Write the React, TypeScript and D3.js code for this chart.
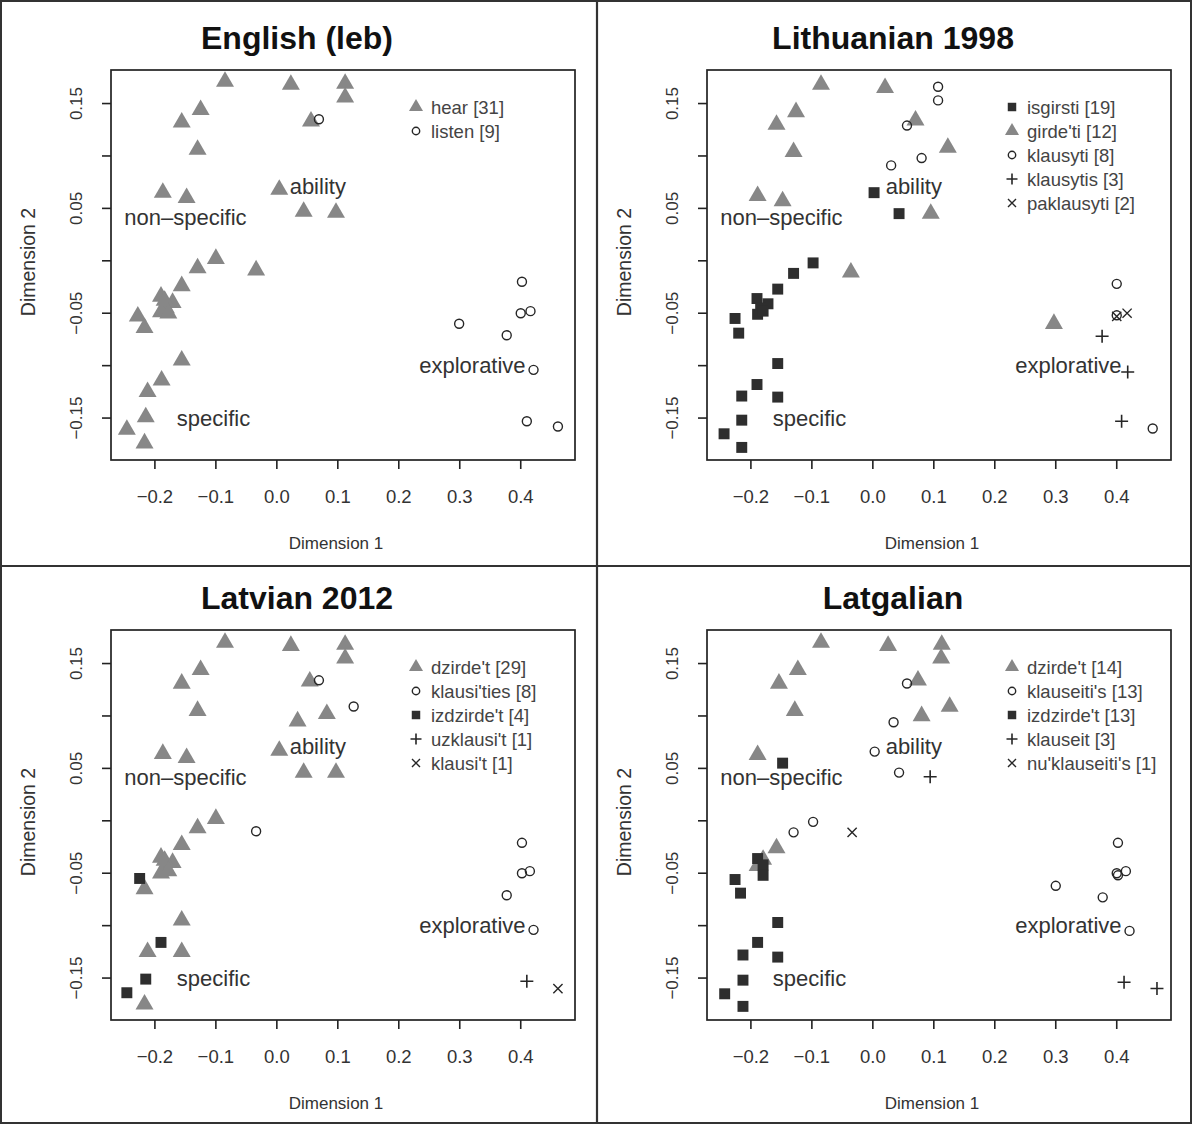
import React from 'react';
import * as d3 from 'd3';

type Pt = [number, number];

// axis ticks shared by all four panels
const xTicks = [-0.2, -0.1, 0, 0.1, 0.2, 0.3, 0.4];
const yTicks = [-0.15, -0.1, -0.05, 0, 0.05, 0.1, 0.15];
const yLabelled = [-0.15, -0.05, 0.05, 0.15];

// English (leb)
const engHear: Pt[] = [
  [-0.085, 0.171], [0.023, 0.168], [0.112, 0.169], [0.112, 0.156], [-0.125, 0.144], [-0.156, 0.132],
  [0.056, 0.133], [-0.13, 0.106], [-0.187, 0.065], [-0.148, 0.06], [0.004, 0.068], [0.044, 0.047],
  [0.097, 0.046], [-0.1, 0.002], [-0.13, -0.007], [-0.034, -0.009], [-0.156, -0.024], [-0.19, -0.034],
  [-0.171, -0.04], [-0.182, -0.045], [-0.19, -0.049], [-0.184, -0.038], [-0.178, -0.05], [-0.228, -0.053],
  [-0.217, -0.064], [-0.156, -0.095], [-0.189, -0.114], [-0.212, -0.125], [-0.215, -0.149], [-0.246, -0.161],
  [-0.217, -0.174],
];
const engListen: Pt[] = [
  [0.069, 0.135], [0.402, -0.02], [0.4, -0.05], [0.416, -0.048], [0.299, -0.06], [0.377, -0.071],
  [0.421, -0.104], [0.41, -0.153], [0.461, -0.158],
];

// Lithuanian 1998
const litIsgirsti: Pt[] = [
  [0.002, 0.065], [0.043, 0.045], [-0.098, -0.002], [-0.13, -0.012], [-0.156, -0.027], [-0.19, -0.036],
  [-0.172, -0.041], [-0.184, -0.045], [-0.189, -0.051], [-0.18, -0.048], [-0.226, -0.055], [-0.22, -0.069],
  [-0.156, -0.098], [-0.19, -0.118], [-0.215, -0.129], [-0.156, -0.13], [-0.215, -0.152], [-0.244, -0.165],
  [-0.215, -0.178],
];
const litGirdeti: Pt[] = [
  [-0.085, 0.168], [0.02, 0.165], [-0.126, 0.142], [-0.158, 0.13], [0.07, 0.134], [-0.13, 0.104],
  [0.123, 0.108], [-0.189, 0.062], [-0.148, 0.057], [0.095, 0.045], [-0.036, -0.011], [0.297, -0.06],
];
const litKlausyti: Pt[] = [
  [0.107, 0.166], [0.107, 0.153], [0.056, 0.129], [0.08, 0.098], [0.03, 0.091], [0.4, -0.022],
  [0.459, -0.16], [0.4, -0.052],
];
const litKlausytis: Pt[] = [[0.376, -0.072], [0.418, -0.106], [0.408, -0.153]];
const litPaklausyti: Pt[] = [[0.4, -0.053], [0.417, -0.05]];

// Latvian 2012
const lavDzirdet: Pt[] = [
  [-0.085, 0.17], [0.023, 0.167], [0.112, 0.168], [0.112, 0.155], [-0.125, 0.144], [-0.156, 0.131],
  [0.054, 0.133], [-0.13, 0.105], [0.034, 0.095], [0.082, 0.102], [-0.187, 0.064], [-0.148, 0.06],
  [0.004, 0.067], [0.044, 0.046], [0.097, 0.046], [-0.1, 0.002], [-0.13, -0.007], [-0.156, -0.023],
  [-0.19, -0.035], [-0.171, -0.04], [-0.182, -0.045], [-0.19, -0.05], [-0.184, -0.038], [-0.178, -0.048],
  [-0.217, -0.065], [-0.156, -0.095], [-0.212, -0.125], [-0.156, -0.125], [-0.217, -0.175],
];
const lavKlausities: Pt[] = [
  [0.069, 0.134], [0.126, 0.109], [-0.034, -0.01], [0.402, -0.021], [0.402, -0.05], [0.415, -0.048],
  [0.377, -0.071], [0.421, -0.104],
];
const lavIzdzirdet: Pt[] = [[-0.225, -0.055], [-0.19, -0.116], [-0.215, -0.151], [-0.246, -0.164]];
const lavUzklausit: Pt[] = [[0.41, -0.153]];
const lavKlausit: Pt[] = [[0.461, -0.16]];

// Latgalian
const ltgDzirdet: Pt[] = [
  [-0.085, 0.17], [0.025, 0.167], [0.113, 0.168], [0.112, 0.155], [-0.123, 0.144], [-0.154, 0.131],
  [0.074, 0.134], [-0.128, 0.105], [0.08, 0.1], [0.126, 0.109], [-0.189, 0.063], [-0.158, -0.026],
  [-0.18, -0.037], [-0.189, -0.043],
];
const ltgKlauseitis: Pt[] = [
  [0.056, 0.131], [0.034, 0.094], [0.003, 0.066], [0.043, 0.046], [-0.098, -0.001], [-0.13, -0.011],
  [0.402, -0.021], [0.4, -0.05], [0.415, -0.048], [0.3, -0.062], [0.377, -0.073], [0.421, -0.105],
  [0.402, -0.052],
];
const ltgIzdzirdet: Pt[] = [
  [-0.148, 0.055], [-0.189, -0.036], [-0.18, -0.042], [-0.18, -0.052], [-0.226, -0.056], [-0.217, -0.069],
  [-0.156, -0.097], [-0.189, -0.116], [-0.213, -0.128], [-0.156, -0.13], [-0.213, -0.152], [-0.243, -0.165],
  [-0.213, -0.177],
];
const ltgKlauseit: Pt[] = [[0.094, 0.042], [0.412, -0.154], [0.466, -0.16]];
const ltgNuklauseitis: Pt[] = [[-0.034, -0.011]];

// cluster names written into every panel
const regionNames = ['ability', 'non\u2013specific', 'specific', 'explorative'];
const regionX = [0.021, -0.15, -0.164, 0.408];
const regionY = [0.071, 0.041, -0.15, -0.1];
const regionAnchor = ['start', 'middle', 'start', 'end'];

type Shape = 'triangle' | 'circle' | 'square' | 'plus' | 'cross';
type Series = { label: string; shape: Shape; pts: Pt[] };

const panels: { title: string; dx: number; dy: number; series: Series[] }[] = [
  {
    title: 'English (leb)', dx: 0, dy: 0,
    series: [
      { label: 'hear [31]', shape: 'triangle', pts: engHear },
      { label: 'listen [9]', shape: 'circle', pts: engListen },
    ],
  },
  {
    title: 'Lithuanian 1998', dx: 596, dy: 0,
    series: [
      { label: 'isgirsti [19]', shape: 'square', pts: litIsgirsti },
      { label: "girde'ti [12]", shape: 'triangle', pts: litGirdeti },
      { label: 'klausyti [8]', shape: 'circle', pts: litKlausyti },
      { label: 'klausytis [3]', shape: 'plus', pts: litKlausytis },
      { label: 'paklausyti [2]', shape: 'cross', pts: litPaklausyti },
    ],
  },
  {
    title: 'Latvian 2012', dx: 0, dy: 560,
    series: [
      { label: "dzirde't [29]", shape: 'triangle', pts: lavDzirdet },
      { label: "klausi'ties [8]", shape: 'circle', pts: lavKlausities },
      { label: "izdzirde't [4]", shape: 'square', pts: lavIzdzirdet },
      { label: "uzklausi't [1]", shape: 'plus', pts: lavUzklausit },
      { label: "klausi't [1]", shape: 'cross', pts: lavKlausit },
    ],
  },
  {
    title: 'Latgalian', dx: 596, dy: 560,
    series: [
      { label: "dzirde't [14]", shape: 'triangle', pts: ltgDzirdet },
      { label: "klauseiti's [13]", shape: 'circle', pts: ltgKlauseitis },
      { label: "izdzirde't [13]", shape: 'square', pts: ltgIzdzirdet },
      { label: 'klauseit [3]', shape: 'plus', pts: ltgKlauseit },
      { label: "nu'klauseiti's [1]", shape: 'cross', pts: ltgNuklauseitis },
    ],
  },
];

const W = 1192;
const H = 1124;
const box = { left: 111, right: 575, top: 70, bottom: 460 };
const font = 'Liberation Sans, Arial, Helvetica, sans-serif';
const triGray = '#878787';
const ink = '#262626';

const x = d3.scaleLinear().domain([-0.272, 0.489]).range([box.left, box.right]);
const y = d3.scaleLinear().domain([-0.19, 0.182]).range([box.bottom, box.top]);
const fmt = (v: number) => d3.format('.2f')(v).replace('-', '\u2212');

const triPath = (big: boolean) => d3.symbol(d3.symbolTriangle, big ? 140 : 85)()!;
const sqPath = (big: boolean) => d3.symbol(d3.symbolSquare, big ? 120 : 72)()!;

function Mark({ shape, cx, cy, big }: { shape: Shape; cx: number; cy: number; big: boolean }) {
  const t = `translate(${cx},${cy})`;
  if (shape === 'triangle') return <path d={triPath(big)} transform={t} fill={triGray} />;
  if (shape === 'square') return <path d={sqPath(big)} transform={t} fill="#2e2e2e" />;
  if (shape === 'circle')
    return <circle cx={cx} cy={cy} r={big ? 4.5 : 3.7} fill="none" stroke={ink} strokeWidth={1.4} />;
  const a = big ? 6.5 : 5.5;
  if (shape === 'plus')
    return (
      <path d={`M${-a},0H${a}M0,${-a}V${a}`} transform={t} stroke={ink} strokeWidth={1.6} fill="none" />
    );
  const c = big ? 4.6 : 4;
  return (
    <path d={`M${-c},${-c}L${c},${c}M${-c},${c}L${c},${-c}`} transform={t} stroke={ink} strokeWidth={1.4} fill="none" />
  );
}

function Panel({ p }: { p: (typeof panels)[number] }) {
  return (
    <g transform={`translate(${p.dx},${p.dy})`} fontFamily={font}>
      <text x={297} y={38} textAnchor="middle" dominantBaseline="central" fontSize={32} fontWeight="bold" fill="#111">
        {p.title}
      </text>
      <rect x={box.left} y={box.top} width={box.right - box.left} height={box.bottom - box.top}
        fill="none" stroke="#222" strokeWidth={1.7} />
      {xTicks.map((v) => (
        <g key={'x' + v}>
          <line x1={x(v)} x2={x(v)} y1={box.bottom} y2={box.bottom + 9} stroke="#222" strokeWidth={1.6} />
          <text x={x(v)} y={496} textAnchor="middle" dominantBaseline="central" fontSize={18.5} fill="#333">
            {fmt(v).replace(/(\.\d)0$/, '$1')}
          </text>
        </g>
      ))}
      {yTicks.map((v) => (
        <g key={'y' + v}>
          <line x1={box.left} x2={box.left - 9} y1={y(v)} y2={y(v)} stroke="#222" strokeWidth={1.6} />
          {yLabelled.includes(v) && (
            <text transform={`translate(76,${y(v)}) rotate(-90)`} textAnchor="middle" dominantBaseline="central"
              fontSize={17} fill="#333">
              {fmt(v)}
            </text>
          )}
        </g>
      ))}
      <text x={336} y={543} textAnchor="middle" dominantBaseline="central" fontSize={17} fill="#333">
        Dimension 1
      </text>
      <text transform={`translate(28,262) rotate(-90)`} textAnchor="middle"
        dominantBaseline="central" fontSize={19.5} fill="#333">
        Dimension 2
      </text>
      {p.series.map((s) => (
        <g key={s.label}>
          {s.pts.map((d, i) => (
            <Mark key={i} shape={s.shape} cx={x(d[0])} cy={y(d[1])} big={true} />
          ))}
        </g>
      ))}
      {regionNames.map((n, i) => (
        <text key={n} x={x(regionX[i])} y={y(regionY[i])} textAnchor={regionAnchor[i] as any}
          dominantBaseline="central" fontSize={22} fill="#333">
          {n}
        </text>
      ))}
      {p.series.map((s, i) => (
        <g key={'lg' + s.label}>
          <Mark shape={s.shape} cx={416} cy={107 + i * 24} big={false} />
          <text x={431} y={107 + i * 24} dominantBaseline="central" fontSize={18.5} fill="#444">
            {s.label}
          </text>
        </g>
      ))}
    </g>
  );
}

export default function App() {
  return (
    <svg width={W} height={H} style={{ position: 'absolute', left: 0, top: 0, background: '#fff' }}>
      <rect x={0} y={0} width={W} height={H} fill="#fff" />
      {panels.map((p) => (
        <Panel key={p.title} p={p} />
      ))}
      <rect x={1} y={1} width={W - 2} height={H - 2} fill="none" stroke="#333" strokeWidth={2} />
      <line x1={597} x2={597} y1={0} y2={H} stroke="#333" strokeWidth={2.2} />
      <line x1={0} x2={W} y1={566} y2={566} stroke="#333" strokeWidth={2.2} />
    </svg>
  );
}
